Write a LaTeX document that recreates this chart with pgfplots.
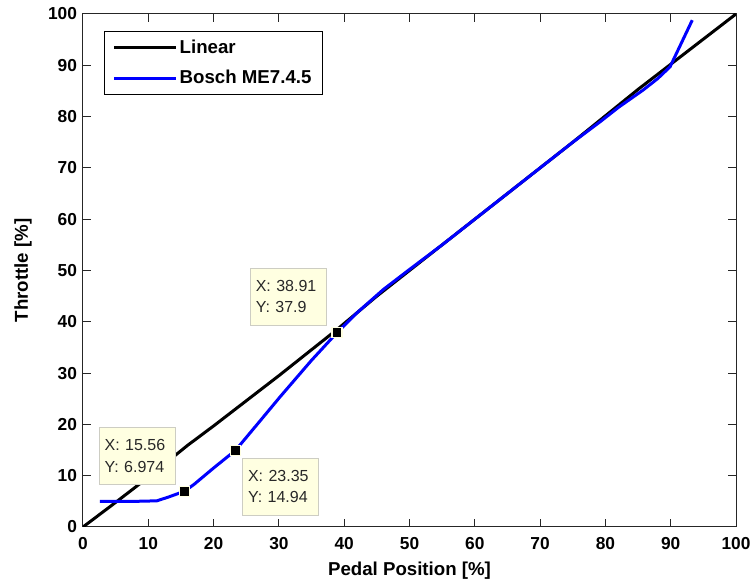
\documentclass[border=0pt]{standalone}
\usepackage{fontspec}
\setmainfont{Liberation Sans}
\usepackage{pgfplots}
\pgfplotsset{compat=1.18}

\definecolor{tipfill}{RGB}{255,255,225}
\definecolor{tipdraw}{RGB}{205,205,195}
\definecolor{tiptext}{RGB}{40,40,40}

\begin{document}
\begin{tikzpicture}
\useasboundingbox (-62.25pt,-43.5pt) rectangle (502.5pt,395.25pt);
\begin{axis}[
    scale only axis,
    width=489.75pt,
    height=384.75pt,
    xmin=0, xmax=100,
    ymin=0, ymax=100,
    xtick={0,10,...,100},
    ytick={0,10,...,100},
    tick align=inside,
    major tick length=6pt,
    axis line style={line width=0.75pt, black!85},
    every tick/.style={black!85, line width=0.75pt},
    /pgf/number format/assume math mode=true,
    ticklabel style={font=\fontsize{13}{15}\selectfont\bfseries},
    xticklabel style={yshift=-4pt},
    yticklabel style={xshift=-1pt},
    xlabel={Pedal Position [\%]},
    ylabel={Throttle [\%]},
    label style={font=\fontsize{14}{16}\selectfont\bfseries},
    xlabel style={at={(axis description cs:0.5,-0.0858)}, anchor=center},
    ylabel style={at={(axis description cs:-0.092,0.5)}, anchor=center},
    legend style={
        at={(axis description cs:0.032,0.967)}, anchor=north west,
        draw=black, line width=0.75pt, fill=white,
        inner xsep=6.25pt, inner ysep=4.5pt,
        font=\fontsize{14}{16}\selectfont\bfseries,
        row sep=7pt,
    },
    legend cell align=left,
    legend image code/.code={\draw[#1] (0pt,0pt) -- (46pt,0pt);},
]
\addplot[black, line width=2.25pt] coordinates {
    (0,0) (5,4.8) (10,9.7) (16,15.9) (20,19.7) (25,24.6) (30,29.5)
    (38.9,38.5) (45,45) (60,60) (75,75) (85,85.3) (90,90.2) (100,100)
};
\addplot[blue, line width=2.25pt] coordinates {
    (2.6,5) (5,5) (8,5) (11.3,5.1) (13,5.8) (15.56,6.974) (17,8.3)
    (20,11.5) (23.35,14.94) (27,20.5) (30.2,25.4) (35,32.5)
    (38.91,37.9) (42,41.8) (46,46.3) (50,50.2) (55,55) (60,60)
    (65,65) (70,70) (75,75) (79.2,79) (82,81.8) (85.8,85.2)
    (88,87.4) (89.9,89.7) (93.3,98.8)
};
\legend{Linear, Bosch ME7.4.5}
\addplot[only marks, mark=square*, mark size=3.75pt,
    mark options={fill=black, draw=tipfill, line width=0.9pt}, forget plot] coordinates {
    (15.56,6.974) (23.35,14.94) (38.91,37.9)
};
\tikzset{tip/.style={draw=tipdraw, fill=tipfill, line width=0.9pt,
    text=tiptext, align=left, text width=49pt, inner xsep=4pt,
    minimum height=42.75pt, font=\fontsize{12}{16}\selectfont}}
\node[tip, anchor=south east, xshift=-6.5pt, yshift=4.5pt]
    at (axis cs:15.56,6.974) {X: 15.56\\Y: 6.974};
\node[tip, anchor=north west, xshift=5pt, yshift=-5.5pt]
    at (axis cs:23.35,14.94) {X: 23.35\\Y: 14.94};
\node[tip, anchor=south east, xshift=-7.5pt, yshift=5pt]
    at (axis cs:38.91,37.9) {X: 38.91\\Y: 37.9};
\end{axis}
\end{tikzpicture}
\end{document}
